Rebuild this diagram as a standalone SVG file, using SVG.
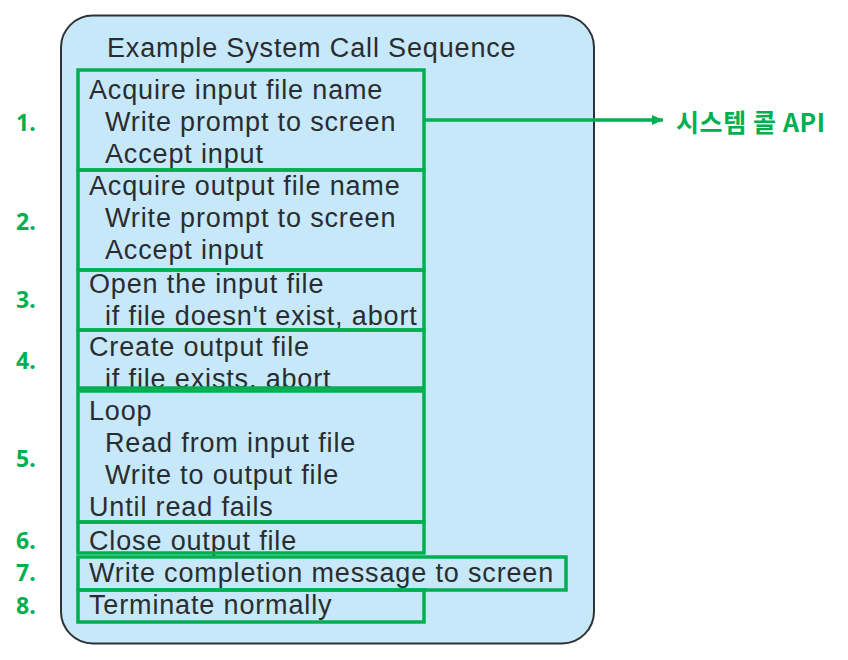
<svg xmlns="http://www.w3.org/2000/svg" width="848" height="660" viewBox="0 0 848 660">
<style>
.t{font-family:"Liberation Sans",Arial,Helvetica,sans-serif;font-size:27px;fill:#2a2d30;letter-spacing:0.85px}
.box{fill:none;stroke:#00b050;stroke-width:3.5}
.num{font-family:"Noto Sans","Noto Sans CJK KR",sans-serif;font-weight:bold;font-size:23px;fill:#00b050}
.lbl{font-family:"Noto Sans CJK KR","Noto Sans",sans-serif;font-weight:bold;font-size:25px;fill:#00b050;letter-spacing:0.6px}
</style>
<defs>
<marker id="ah" markerWidth="12" markerHeight="12" refX="11" refY="5" orient="auto" markerUnits="userSpaceOnUse">
<path d="M0,0 L11,5 L0,10 Z" fill="#00b050"/>
</marker>
</defs>
<rect width="848" height="660" fill="#ffffff"/>
<g id="frame">
<rect x="61" y="15.5" width="533" height="628" rx="32" ry="32" fill="#c6e8f8" stroke="#2e3236" stroke-width="2"/>
<text class="t" x="107" y="57">Example System Call Sequence</text>
</g>
<g id="step1">
<text class="t" x="89" y="99">Acquire input file name</text>
<text class="t" x="105" y="131">Write prompt to screen</text>
<text class="t" x="105" y="163">Accept input</text>
<rect class="box" x="78" y="70" width="346" height="100"/>
<text class="num" x="16" y="131">1.</text>
</g>
<g id="step2">
<text class="t" x="89" y="195">Acquire output file name</text>
<text class="t" x="105" y="227">Write prompt to screen</text>
<text class="t" x="105" y="259">Accept input</text>
<rect class="box" x="78" y="170" width="346" height="100"/>
<text class="num" x="16" y="230">2.</text>
</g>
<g id="step3">
<text class="t" x="89" y="293">Open the input file</text>
<text class="t" x="105" y="325">if file doesn't exist, abort</text>
<rect class="box" x="78" y="270" width="346" height="60"/>
<text class="num" x="16" y="308">3.</text>
</g>
<g id="step4">
<text class="t" x="89" y="356">Create output file</text>
<text class="t" x="105" y="388">if file exists, abort</text>
<rect class="box" x="78" y="330" width="346" height="58"/>
<text class="num" x="16" y="369">4.</text>
</g>
<g id="step5">
<text class="t" x="89" y="420">Loop</text>
<text class="t" x="105" y="452">Read from input file</text>
<text class="t" x="105" y="484">Write to output file</text>
<text class="t" x="89" y="516">Until read fails</text>
<rect class="box" x="78" y="391" width="346" height="131"/>
<text class="num" x="16" y="467">5.</text>
</g>
<g id="step6">
<text class="t" x="89" y="550">Close output file</text>
<rect class="box" x="78" y="522" width="346" height="31"/>
<text class="num" x="16" y="549">6.</text>
</g>
<g id="step7">
<text class="t" x="89" y="582">Write completion message to screen</text>
<rect class="box" x="78" y="557" width="488" height="33"/>
<text class="num" x="16" y="581">7.</text>
</g>
<g id="step8">
<text class="t" x="89" y="614">Terminate normally</text>
<rect class="box" x="78" y="590" width="346" height="32"/>
<text class="num" x="16" y="614">8.</text>
</g>
<g id="api">
<text class="lbl" x="676" y="132">시스템 콜 API</text>
</g>
<g id="connectors">
<line x1="424" y1="120" x2="663" y2="120" stroke="#00b050" stroke-width="3.5" marker-end="url(#ah)"/>
</g>
</svg>
